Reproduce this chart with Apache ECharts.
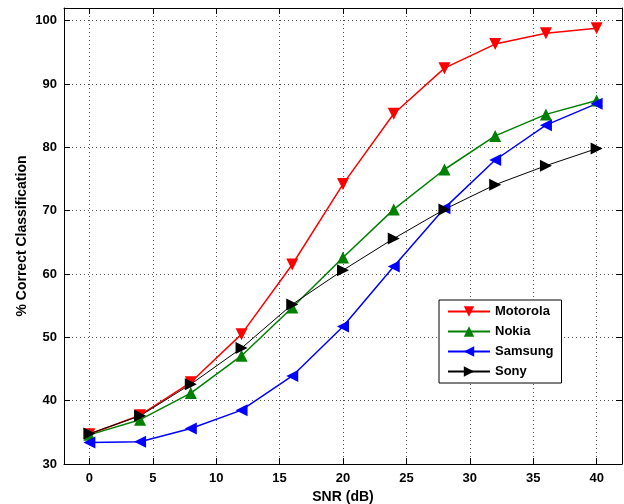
<!DOCTYPE html>
<html><head><meta charset="utf-8">
<script src="https://cdn.jsdelivr.net/npm/echarts@6/dist/echarts.min.js"></script>
<style>html,body{margin:0;padding:0;background:#fff}#c{width:624px;height:504px}</style>
</head><body><div id="c"></div>
<script>
const snr = [0, 4, 8, 12, 16, 20, 24, 28, 32, 36, 40];
const motorola = [34.7, 37.7, 42.9, 50.5, 61.5, 74.2, 85.3, 92.5, 96.3, 98.0, 98.8];
const nokia = [34.6, 37.0, 41.2, 47.1, 54.7, 62.6, 70.2, 76.5, 81.8, 85.2, 87.4];
const samsung = [33.4, 33.5, 35.6, 38.5, 43.9, 51.7, 61.2, 70.4, 78.0, 83.5, 86.9];
const sony = [34.8, 37.6, 42.6, 48.3, 55.2, 60.6, 65.6, 70.2, 74.1, 77.1, 79.8];

const font = 'Liberation Sans, Arial, Helvetica, sans-serif';
function mk(name, vals, color, rot, width) {
  return {
    name, type: 'line', data: snr.map((x, i) => [x, vals[i]]),
    symbol: 'triangle', symbolSize: 12, symbolRotate: rot,
    lineStyle: { color, width }, itemStyle: { color },
    showAllSymbol: true, animation: false
  };
}
const tickCommon = { show: true, inside: true, length: 6, lineStyle: { color: '#000', width: 1 } };
const chart = echarts.init(document.getElementById('c'));
chart.setOption({
  animation: false,
  grid: { left: 64, top: 8, right: 2, bottom: 40, containLabel: false, outerBoundsMode: 'none' },
  xAxis: [{
    type: 'value', min: -2, max: 42, splitNumber: 9,
    name: 'SNR (dB)', nameLocation: 'middle', nameGap: 23,
    nameTextStyle: { fontFamily: font, fontWeight: 'bold', fontSize: 14, color: '#000' },
    axisLine: { show: true, onZero: false, lineStyle: { color: '#000', width: 1 } },
    axisTick: tickCommon,
    axisLabel: { fontFamily: font, fontWeight: 'bold', fontSize: 13, color: '#000', margin: 8,
      showMinLabel: false, showMaxLabel: false },
    splitLine: { show: true, lineStyle: { type: [1, 3], color: '#555', width: 1 } }
  }, {
    type: 'value', min: -2, max: 42, splitNumber: 9, position: 'top',
    axisLine: { show: true, onZero: false, lineStyle: { color: '#000', width: 1 } },
    axisTick: tickCommon,
    axisLabel: { show: false }, splitLine: { show: false }
  }],
  yAxis: [{
    type: 'value', min: 30, max: 102, interval: 10,
    name: '% Correct Classification', nameLocation: 'middle', nameGap: 35, nameMoveOverlap: false,
    nameTextStyle: { fontFamily: font, fontWeight: 'bold', fontSize: 14, color: '#000' },
    axisLine: { show: true, onZero: false, lineStyle: { color: '#000', width: 1 } },
    axisTick: tickCommon,
    axisLabel: { fontFamily: font, fontWeight: 'bold', fontSize: 13, color: '#000', margin: 7,
      showMaxLabel: false },
    splitLine: { show: true, lineStyle: { type: [1, 3], color: '#555', width: 1 } }
  }, {
    type: 'value', min: 30, max: 102, interval: 10, position: 'right',
    axisLine: { show: true, onZero: false, lineStyle: { color: '#000', width: 1 } },
    axisTick: tickCommon,
    axisLabel: { show: false }, splitLine: { show: false }
  }],
  legend: {
    orient: 'vertical', left: 439, top: 300, width: 122,
    backgroundColor: '#fff', borderColor: '#000', borderWidth: 1,
    padding: [5, 8, 5, 8], itemGap: 7, itemWidth: 42, itemHeight: 13,
    textStyle: { fontFamily: font, fontWeight: 'bold', fontSize: 13, color: '#000' },
    data: ['Motorola', 'Nokia', 'Samsung', 'Sony']
  },
  series: [
    mk('Motorola', motorola, '#ff0000', 180, 1.5),
    mk('Nokia', nokia, '#008000', 0, 1.5),
    mk('Samsung', samsung, '#0000ff', 90, 1.5),
    mk('Sony', sony, '#000000', -90, 1)
  ]
});
</script></body></html>
